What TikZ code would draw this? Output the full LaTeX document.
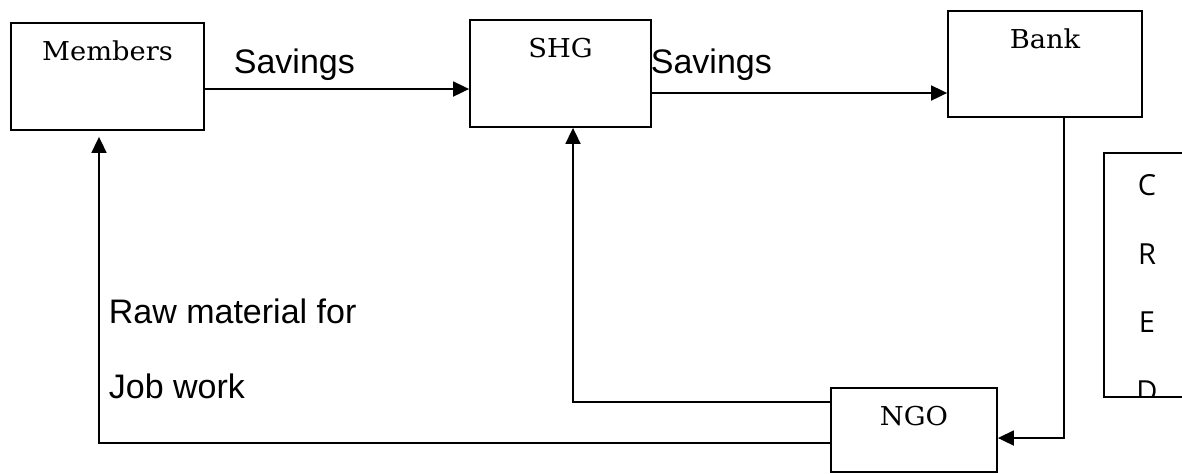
\documentclass[tikz,border=0pt]{standalone}
\usepackage{fontspec}
\usepackage{tikz}
\usetikzlibrary{arrows.meta}
\newfontfamily\flowfont{Liberation Sans}
\newfontfamily\boxfont{DejaVu Serif}[FakeStretch=1.05]
\newfontfamily\credfont{Open Sans}

\begin{document}
\begin{tikzpicture}[x=0.5pt, y=-0.5pt, line width=0.9pt,
    box/.style={draw, inner sep=0pt},
    boxtext/.style={font=\boxfont\fontsize{13pt}{15pt}\selectfont, inner sep=0pt, anchor=base},
    flowtext/.style={font=\flowfont\fontsize{17pt}{20pt}\selectfont, inner sep=0pt, anchor=base west},
    flow/.style={-{Triangle[length=8pt, width=7.5pt]}}]
    \clip (0,0) rectangle (1182,473);
    % boxes
    \node[box, minimum width=96.5pt, minimum height=53.5pt] (mem) at (107.5,76.5) {};
    \node[boxtext] (memtxt) at ([yshift=-19pt]mem.north) {Members};
    \node[box, minimum width=90.5pt, minimum height=53.5pt] (shg) at (560.5,73.5) {};
    \node[boxtext] (shgtxt) at ([yshift=-19pt]shg.north) {SHG};
    \node[box, minimum width=97pt, minimum height=53pt] (bank) at (1045,64) {};
    \node[boxtext] (banktxt) at ([yshift=-19pt]bank.north) {Bank};
    \node[box, minimum width=83pt, minimum height=42pt] (ngo) at (914,430) {};
    \node[boxtext] (ngotxt) at ([yshift=-19pt]ngo.north) {NGO};
    \node[box, minimum width=48pt, minimum height=122pt] (cred) at (1152,275) {};
    \begin{scope}
        \clip (1105,154) rectangle (1182,396);
        \foreach \ch/\yb [count=\i] in {C/195, R/264, E/332, D/401}
            \node[font=\credfont\fontsize{14.5pt}{16pt}\selectfont, inner sep=0pt, anchor=base] (cr\i) at (1147,\yb) {\ch};
    \end{scope}
    % flows
    \draw[flow] ([yshift=-6.25pt]mem.east) -- ([yshift=-6.25pt]mem.east -| shg.west);
    \draw[flow] ([yshift=-9.75pt]shg.east) -- ([yshift=-9.75pt]shg.east -| bank.west);
    \draw[flow] ([xshift=9.5pt]bank.south) |- ([yshift=-4pt]ngo.east);
    \draw[flow] ([yshift=14pt]ngo.west) -| ([xshift=6.25pt]shg.south);
    \draw[flow, shorten >=3pt] ([yshift=-6.5pt]ngo.west) -| ([xshift=-4.25pt]mem.south);
    % labels
    \node[flowtext] (savA) at (233,73) {Savings};
    \node[flowtext] (savB) at (650,73) {Savings};
    \node[flowtext] (rawtxt) at (108,323) {Raw material for};
    \node[flowtext] (jobtxt) at (108,398) {Job work};
\end{tikzpicture}
\end{document}
